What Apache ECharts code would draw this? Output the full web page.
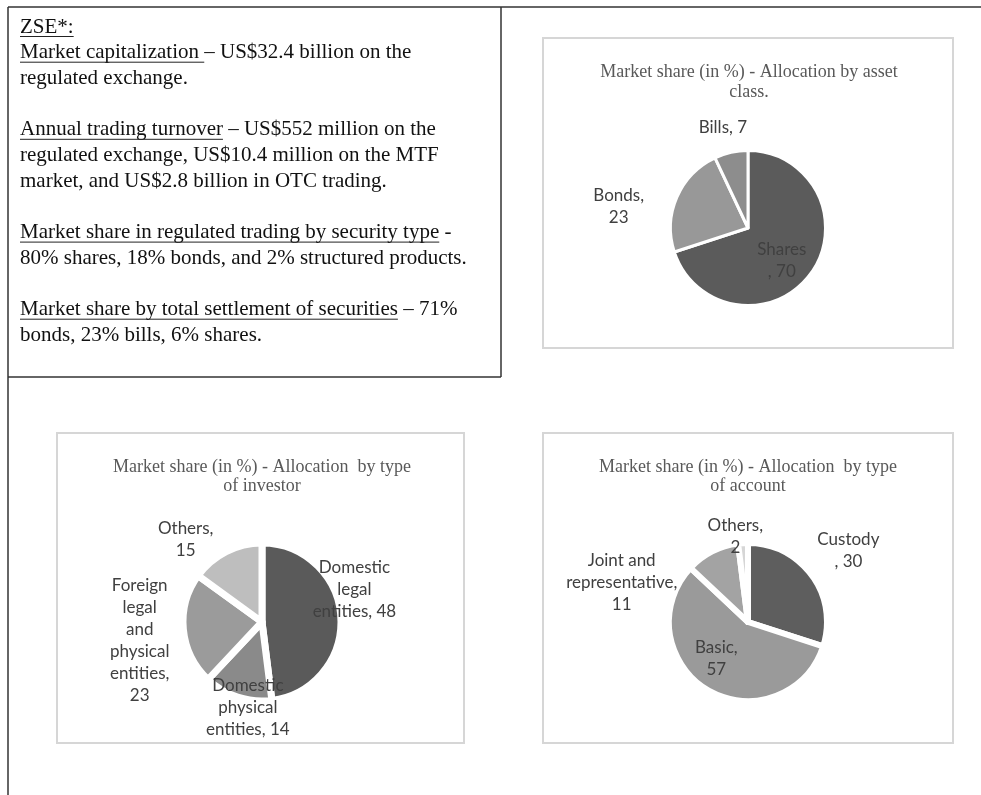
<!DOCTYPE html>
<html><head><meta charset="utf-8">
<script src="https://cdn.jsdelivr.net/npm/echarts@6/dist/echarts.min.js"></script>
<style>html,body{margin:0;padding:0;background:#fff;}#c{width:981px;height:795px;}</style>
</head><body><div id="c"></div>
<script>
// ---- data ----
const assetCategories = ['Shares', 'Bonds', 'Bills'];
const assetValues = [70, 23, 7];
const assetLabelText = ['Shares\n, {v}', 'Bonds,\n{v}', 'Bills, {v}'];

const investorCategories = ['Domestic legal entities', 'Domestic physical entities', 'Foreign legal and physical entities', 'Others'];
const investorValues = [48, 14, 23, 15];
const investorLabelText = ['Domestic\nlegal\nentities, {v}', 'Domestic\nphysical\nentities, {v}', 'Foreign\nlegal\nand\nphysical\nentities,\n{v}', 'Others,\n{v}'];

const accountCategories = ['Custody', 'Basic', 'Joint and representative', 'Others'];
const accountValues = [30, 57, 11, 2];
const accountLabelText = ['Custody\n, {v}', 'Basic,\n{v}', 'Joint and\nrepresentative,\n{v}', 'Others,\n{v}'];

const assetTitle = 'Market share (in %) - Allocation by asset\nclass.';
const investorTitle = 'Market share (in %) - Allocation  by type\nof investor';
const accountTitle = 'Market share (in %) - Allocation  by type\nof account';

// text box lines: [underlined part, plain part]; null = blank line
const textLines = [
  ['ZSE*:', ''],
  ['Market capitalization ', '– US$32.4 billion on the'],
  ['', 'regulated exchange.'],
  null,
  ['Annual trading turnover', ' – US$552 million on the'],
  ['', 'regulated exchange, US$10.4 million on the MTF'],
  ['', 'market, and US$2.8 billion in OTC trading.'],
  null,
  ['Market share in regulated trading by security type', ' -'],
  ['', '80% shares, 18% bonds, and 2% structured products.'],
  null,
  ['Market share by total settlement of securities', ' – 71%'],
  ['', 'bonds, 23% bills, 6% shares.']
];

// ---- styles ----
const assetColors = ['#5b5b5b', '#989898', '#8d8d8d'];
const investorColors = ['#5a5a5a', '#8a8a8a', '#9b9b9b', '#bebebe'];
const accountColors = ['#5e5e5e', '#9a9a9a', '#a3a3a3', '#d6d6d6'];
const assetLabelShift = [[0, 8], [-91, -5], [-16, -60]];
const investorLabelShift = [[50, -30], [-1, 45], [-80, 15], [-57, -45]];
const accountLabelShift = [[66, -47], [-10, 0], [-107, -2], [-10, -43]];

const serif = '"Liberation Serif", "Times New Roman", serif';
const bodyFont = '21px ' + serif;
const canvas = document.createElement('canvas');
const ctx = canvas.getContext('2d');
ctx.font = bodyFont;

const graphics = [];
// frame lines
const frameStroke = { stroke: '#333', lineWidth: 1.5 };
graphics.push({ type: 'line', shape: { x1: 8, y1: 7, x2: 981, y2: 7 }, style: frameStroke });
graphics.push({ type: 'line', shape: { x1: 8, y1: 7, x2: 8, y2: 795 }, style: frameStroke });
graphics.push({ type: 'line', shape: { x1: 501, y1: 7, x2: 501, y2: 377 }, style: frameStroke });
graphics.push({ type: 'line', shape: { x1: 8, y1: 377, x2: 501, y2: 377 }, style: frameStroke });

// text box
const textX = 20, textY0 = 27, lineStep = 25.7;
textLines.forEach((ln, i) => {
  if (!ln) return;
  const y = textY0 + i * lineStep;
  graphics.push({ type: 'text', x: textX, y: y, style: { text: ln[0] + ln[1], font: bodyFont, fill: '#111', verticalAlign: 'middle', align: 'left' } });
  if (ln[0]) {
    const w = ctx.measureText(ln[0]).width;
    graphics.push({ type: 'line', shape: { x1: textX, y1: y + 9.5, x2: textX + w, y2: y + 9.5 }, style: { stroke: '#222', lineWidth: 1 } });
  }
});

// chart boxes and titles
const boxes = [
  { x: 543, y: 38, w: 410, h: 310, title: assetTitle, tx: 749, ty: 82.5 },
  { x: 57, y: 433, w: 407, h: 310, title: investorTitle, tx: 262, ty: 477 },
  { x: 543, y: 433, w: 410, h: 310, title: accountTitle, tx: 748, ty: 477 }
];
boxes.forEach(b => {
  graphics.push({ type: 'rect', z: -1, shape: { x: b.x, y: b.y, width: b.w, height: b.h }, style: { fill: '#fff', stroke: '#d6d6d6', lineWidth: 2 } });
  graphics.push({ type: 'text', x: b.tx, y: b.ty, style: { text: b.title, font: '18px ' + serif, fill: '#595959', align: 'center', verticalAlign: 'middle', lineHeight: 19.5 } });
});

function pieSeries(cats, vals, colors, tpl, shift, center, radius, bw) {
  return {
    type: 'pie', center: center, radius: radius, startAngle: 90, clockwise: true,
    silent: true, animation: false,
    emphasis: { disabled: true },
    itemStyle: { borderColor: '#fff', borderWidth: bw },
    data: cats.map((c, i) => ({ name: c, value: vals[i], itemStyle: { color: colors[i] } })),
    label: {
      show: true, position: 'inside', color: '#404040',
      fontFamily: 'Lato', fontSize: 17, lineHeight: 22, align: 'center',
      formatter: p => tpl[p.dataIndex].replace('{v}', p.value)
    },
    labelLine: { show: false },
    labelLayout: p => ({ dx: shift[p.dataIndex][0], dy: shift[p.dataIndex][1] })
  };
}

const chart = echarts.init(document.getElementById('c'));
chart.setOption({
  animation: false,
  backgroundColor: '#fff',
  graphic: { elements: graphics },
  series: [
    pieSeries(assetCategories, assetValues, assetColors, assetLabelText, assetLabelShift, [748, 228], 77.5, 3),
    pieSeries(investorCategories, investorValues, investorColors, investorLabelText, investorLabelShift, [262, 622], 79, 7),
    pieSeries(accountCategories, accountValues, accountColors, accountLabelText, accountLabelShift, [748, 622], 79, 6)
  ]
});
</script></body></html>
